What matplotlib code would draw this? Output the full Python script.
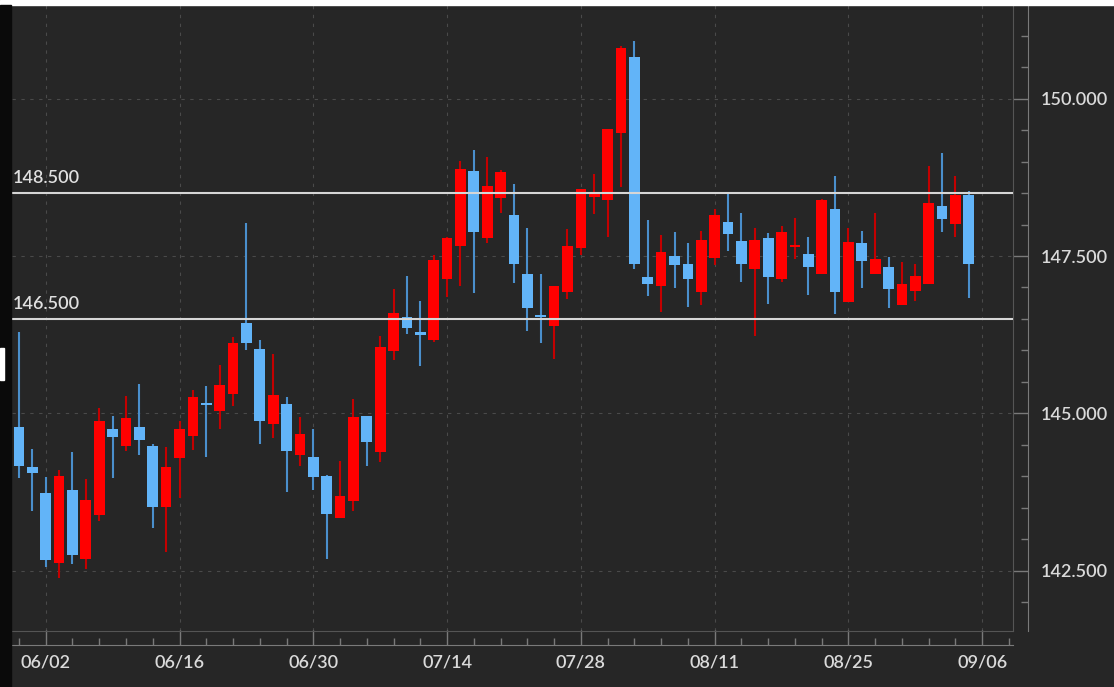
import matplotlib
matplotlib.use("Agg")
import matplotlib.pyplot as plt
from matplotlib.patches import Rectangle
from matplotlib.ticker import FixedLocator, MultipleLocator, FormatStrFormatter
import numpy as np

# daily OHLC, 05/29 .. 09/05
opens = [144.79, 144.15, 143.74, 142.62, 143.78, 142.69, 143.39, 144.75, 144.48, 144.79,
         144.48, 143.51, 144.29, 144.64, 145.17, 145.03, 145.31, 146.43, 146.02, 144.83,
         145.15, 144.34, 144.31, 144.01, 143.34, 143.60, 144.95, 144.39, 145.99, 146.53,
         146.29, 146.16, 147.13, 147.66, 148.85, 147.79, 148.43, 148.15, 147.22, 146.56,
         146.39, 146.93, 147.62, 148.44, 148.39, 149.46, 150.66, 147.17, 147.02, 147.50,
         147.37, 146.93, 147.47, 148.04, 147.74, 147.30, 147.79, 147.13, 147.65, 147.54,
         147.22, 148.25, 146.77, 147.70, 147.22, 147.33, 146.72, 146.95, 147.05, 148.29,
         148.01, 148.47]
highs = [146.29, 144.43, 143.98, 144.10, 144.38, 143.96, 145.09, 144.95, 145.28, 145.47,
         144.52, 144.47, 144.88, 145.37, 145.44, 145.77, 146.22, 148.03, 146.16, 145.94,
         145.26, 144.94, 144.75, 144.02, 144.24, 145.23, 144.96, 146.23, 146.97, 147.18,
         146.78, 147.51, 147.80, 149.01, 149.18, 149.07, 148.86, 148.65, 147.95, 147.21,
         147.03, 147.93, 148.56, 148.80, 149.52, 150.84, 150.91, 148.08, 147.83, 147.88,
         147.71, 147.90, 148.25, 148.50, 148.18, 147.95, 147.87, 147.98, 148.10, 147.81,
         148.40, 148.77, 147.94, 147.90, 148.18, 147.49, 147.40, 147.37, 148.93, 149.13,
         148.77, 148.53]
lows = [143.97, 143.44, 142.55, 142.38, 142.60, 142.53, 143.29, 143.97, 144.40, 144.33,
        143.18, 142.79, 143.65, 144.41, 144.31, 144.75, 145.12, 146.01, 144.52, 144.60,
        143.75, 144.17, 143.78, 142.69, 143.33, 143.45, 144.17, 144.23, 145.84, 146.26,
        145.75, 146.14, 146.85, 147.02, 146.91, 147.71, 148.19, 147.07, 146.31, 146.11,
        145.86, 146.81, 147.51, 148.17, 147.81, 148.59, 147.30, 146.86, 146.61, 146.99,
        146.69, 146.72, 147.36, 147.58, 147.09, 146.23, 146.74, 147.08, 147.45, 146.88,
        147.22, 146.58, 146.77, 146.99, 147.22, 146.67, 146.72, 146.79, 147.05, 147.88,
        147.80, 146.83]
closes = [144.16, 144.05, 142.67, 144.01, 142.75, 143.62, 144.88, 144.62, 144.92, 144.58,
          143.51, 144.14, 144.75, 145.26, 145.13, 145.45, 146.11, 146.12, 144.87, 145.29,
          144.40, 144.67, 143.98, 143.40, 143.69, 144.94, 144.54, 146.06, 146.59, 146.36,
          146.24, 147.44, 147.79, 148.88, 147.88, 148.61, 148.84, 147.37, 146.67, 146.53,
          147.02, 147.66, 148.56, 148.48, 149.52, 150.80, 147.38, 147.05, 147.57, 147.36,
          147.13, 147.75, 148.15, 147.85, 147.37, 147.76, 147.17, 147.88, 147.68, 147.33,
          148.39, 146.93, 147.73, 147.42, 147.45, 146.97, 147.05, 147.18, 148.35, 148.09,
          148.47, 147.37]

date_labels = ["06/02", "06/16", "06/30", "07/14", "07/28", "08/11", "08/25", "09/06"]
levels = [148.5, 146.5]

BG = "#262626"
UP_BODY, UP_WICK = "#ff0000", "#c40000"
DN_BODY, DN_WICK = "#62b4f8", "#4a8fcc"
TXT = dict(family="Lato", weight="semibold", size=13)

fig = plt.figure(figsize=(11.14, 6.87), dpi=100, facecolor=BG)
W, H = 1114, 687
ax = fig.add_axes([12 / W, 1 - 631 / H, (1013 - 12) / W, (631 - 5) / H])
ax.set_facecolor(BG)

o, h, l, c = map(np.array, (opens, highs, lows, closes))
x = np.arange(len(o))
up = c >= o
mid = (o + c) / 2
size = np.maximum(np.abs(c - o), 0.035)
bottom = mid - size / 2

ax.vlines(x[up], l[up], h[up], color=UP_WICK, lw=1.5, zorder=3)
ax.vlines(x[~up], l[~up], h[~up], color=DN_WICK, lw=1.5, zorder=3)
ax.bar(x[up], size[up], bottom=bottom[up], width=0.8, color=UP_BODY, lw=0, zorder=4)
ax.bar(x[~up], size[~up], bottom=bottom[~up], width=0.8, color=DN_BODY, lw=0, zorder=4)

for lv in levels:
    ax.axhline(lv, color="#d6d6d6", lw=1.5, zorder=5)
    ax.annotate(f"{lv:.3f}", xy=(0, lv), xycoords=("axes fraction", "data"),
                xytext=(0.5, 5), textcoords="offset points", ha="left", va="bottom",
                color="#e0e0e0", zorder=6, **TXT)

ax.set_xlim(-0.52, 74.3)
ax.set_ylim(141.54, 151.49)

# axes look
for s in ("left", "top"):
    ax.spines[s].set_visible(False)
ax.spines["right"].set_position(("outward", 10.8))
ax.spines["bottom"].set_position(("outward", 10.1))
ax.spines["right"].set_color("#7a7a7a")
ax.spines["bottom"].set_color("#7a7a7a")

ax.yaxis.tick_right()
ax.yaxis.set_major_locator(MultipleLocator(2.5))
ax.yaxis.set_minor_locator(MultipleLocator(0.5))
ax.yaxis.set_major_formatter(FormatStrFormatter("%.3f"))
ax.set_xticks(range(2, 73, 10))
ax.set_xticklabels(date_labels)
ax.xaxis.set_minor_locator(FixedLocator(range(0, 75, 2)))

ax.tick_params(which="both", direction="in", color="#7a7a7a", labelcolor="#dadada",
               labelsize=13, width=1)
ax.tick_params(which="major", length=10.5)
ax.tick_params(which="minor", length=5)
ax.tick_params(axis="y", pad=9)
ax.tick_params(axis="x", pad=7)
for lab in ax.get_xticklabels() + ax.get_yticklabels():
    lab.set_family("Lato")
    lab.set_weight("semibold")

ax.grid(which="major", color="#4a4a4a", lw=0.8, linestyle=(0, (3, 5)))
ax.set_axisbelow(True)

# plot frame (right and bottom edges)
ax.plot([1, 1], [0, 1], transform=ax.transAxes, color="#555555", lw=0.8, clip_on=False)
ax.plot([0, 1], [0, 0], transform=ax.transAxes, color="#555555", lw=0.8, clip_on=False)

# outer strips of the screenshot
fig.patches.append(Rectangle((0, 1 - 5 / H), 1, 5 / H, transform=fig.transFigure,
                             color="white", zorder=0))
fig.patches.append(Rectangle((0, 0), 11 / W, 1 - 5 / H, transform=fig.transFigure,
                             color="#0a0a0a", zorder=0))
fig.patches.append(Rectangle((0, 1 - 380 / H), 4 / W, 32 / H, transform=fig.transFigure,
                             color="white", zorder=1))

fig.savefig("out.png", dpi=100, facecolor=BG)
